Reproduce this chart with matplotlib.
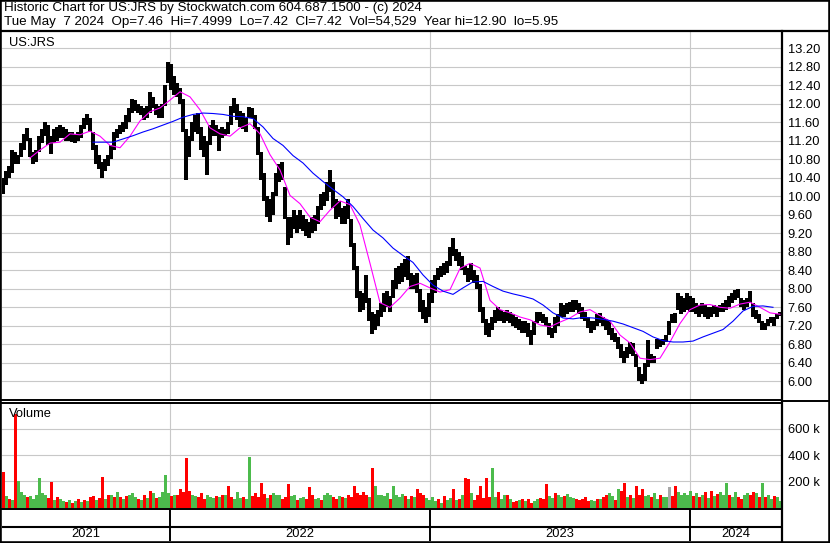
import numpy as np
import pandas as pd
import matplotlib
matplotlib.use('Agg')
import matplotlib.pyplot as plt
from matplotlib.lines import Line2D
from matplotlib.patches import Rectangle

plt.rcParams['font.family'] = ['Liberation Sans', 'DejaVu Sans']

title_line1 = 'Historic Chart for US:JRS by Stockwatch.com 604.687.1500 - (c) 2024'
title_line2 = ('Tue May  7 2024  Op=7.46  Hi=7.4999  Lo=7.42  Cl=7.42  '
               'Vol=54,529  Year hi=12.90  lo=5.95')
symbol = 'US:JRS'

# one bar per 3 trading days
lows = [10.05, 10.25, 10.40, 10.50, 10.70, 10.70, 10.85, 11.00, 11.20, 10.85,
        10.70, 10.75, 10.95, 11.15, 11.30, 11.10, 10.92, 11.15, 11.20, 11.25,
        11.25, 11.20, 11.20, 11.18, 11.15, 11.20, 11.25, 11.45, 11.55, 11.40,
        11.00, 10.70, 10.60, 10.40, 10.55, 10.65, 10.80, 11.00, 11.25, 11.35,
        11.40, 11.45, 11.60, 11.80, 11.85, 11.80, 11.75, 11.65, 11.70, 11.80,
        11.90, 11.75, 11.70, 11.70, 11.95, 12.45, 12.30, 12.20, 12.15, 12.00,
        11.40, 10.35, 10.85, 11.20, 11.40, 11.35, 11.00, 10.85, 10.46, 11.10,
        11.30, 11.30, 10.97, 11.25, 11.30, 11.35, 11.55, 11.80, 11.65, 11.50,
        11.45, 11.40, 11.70, 11.70, 11.45, 10.90, 10.35, 9.90, 9.55, 9.45,
        9.60, 10.00, 10.30, 10.35, 9.50, 8.95, 9.10, 9.30, 9.20, 9.30,
        9.25, 9.15, 9.10, 9.20, 9.25, 9.40, 9.70, 9.80, 9.90, 10.10,
        9.75, 9.50, 9.55, 9.40, 9.40, 9.50, 8.90, 8.40, 7.80, 7.50,
        7.55, 7.70, 7.30, 7.02, 7.10, 7.20, 7.40, 7.50, 7.60, 7.50,
        7.80, 8.00, 8.10, 8.15, 8.25, 8.20, 8.00, 8.00, 7.90, 7.50,
        7.35, 7.26, 7.40, 7.70, 7.90, 8.20, 8.25, 8.30, 8.35, 8.50,
        8.70, 8.60, 8.50, 8.40, 8.30, 8.15, 8.20, 8.12, 8.00, 7.50,
        7.25, 7.00, 6.96, 7.10, 7.25, 7.30, 7.30, 7.25, 7.30, 7.25,
        7.20, 7.15, 7.10, 7.05, 7.05, 6.95, 6.79, 7.00, 7.25, 7.30,
        7.25, 7.20, 7.00, 6.93, 7.05, 7.20, 7.40, 7.40, 7.45, 7.50,
        7.50, 7.55, 7.45, 7.35, 7.30, 7.15, 7.05, 7.10, 7.20, 7.25,
        7.20, 7.10, 7.00, 6.90, 6.85, 6.70, 6.50, 6.40, 6.50, 6.60,
        6.55, 6.30, 6.00, 5.95, 6.00, 6.30, 6.40, 6.40, 6.70, 6.75,
        6.78, 6.85, 7.00, 7.25, 7.25, 7.55, 7.45, 7.50, 7.55, 7.50,
        7.50, 7.45, 7.40, 7.45, 7.40, 7.35, 7.40, 7.45, 7.40, 7.50,
        7.50, 7.55, 7.60, 7.70, 7.75, 7.80, 7.60, 7.55, 7.60, 7.70,
        7.40, 7.35, 7.25, 7.10, 7.10, 7.20, 7.25, 7.20, 7.35, 7.42]
highs = [10.40, 10.55, 10.65, 11.00, 10.95, 10.90, 11.15, 11.35, 11.48, 11.25,
         10.95, 11.00, 11.30, 11.45, 11.60, 11.55, 11.30, 11.45, 11.50, 11.55,
         11.50, 11.45, 11.40, 11.38, 11.35, 11.40, 11.55, 11.70, 11.77, 11.70,
         11.40, 11.10, 10.90, 10.75, 10.80, 10.90, 11.10, 11.40, 11.45, 11.55,
         11.60, 11.75, 11.90, 12.10, 12.08, 12.00, 11.95, 11.90, 11.95, 12.25,
         12.15, 12.00, 11.95, 12.00, 12.40, 12.90, 12.85, 12.60, 12.45, 12.35,
         12.10, 11.45, 11.30, 11.60, 11.75, 11.80, 11.50, 11.30, 11.20, 11.55,
         11.65, 11.55, 11.45, 11.50, 11.45, 11.60, 11.95, 12.12, 12.00, 11.85,
         11.80, 11.70, 11.93, 11.90, 11.75, 11.50, 10.95, 10.50, 10.00, 9.95,
         10.10, 10.50, 10.70, 10.74, 10.20, 9.55, 9.55, 9.70, 9.60, 9.70,
         9.60, 9.50, 9.45, 9.55, 9.60, 9.80, 10.05, 10.10, 10.30, 10.57,
         10.30, 9.95, 9.90, 9.75, 9.80, 9.95, 9.50, 9.00, 8.50, 7.95,
         7.90, 8.30, 7.80, 7.50, 7.45, 7.55, 7.70, 7.90, 7.95, 7.85,
         8.20, 8.45, 8.50, 8.55, 8.65, 8.70, 8.35, 8.30, 8.35, 8.00,
         7.75, 7.60, 7.90, 8.20, 8.30, 8.45, 8.50, 8.55, 8.60, 8.90,
         9.10, 8.85, 8.80, 8.70, 8.50, 8.45, 8.55, 8.40, 8.30, 8.10,
         7.60, 7.35, 7.25, 7.40, 7.55, 7.60, 7.55, 7.50, 7.55, 7.50,
         7.45, 7.40, 7.35, 7.30, 7.30, 7.25, 7.10, 7.30, 7.50, 7.50,
         7.45, 7.40, 7.25, 7.15, 7.40, 7.45, 7.70, 7.65, 7.70, 7.72,
         7.75, 7.76, 7.70, 7.60, 7.50, 7.40, 7.30, 7.30, 7.45, 7.48,
         7.40, 7.35, 7.30, 7.15, 7.05, 6.95, 6.80, 6.65, 6.75, 6.85,
         6.83, 6.60, 6.30, 6.15, 6.40, 6.90, 6.60, 6.55, 6.92, 6.90,
         6.92, 7.00, 7.30, 7.45, 7.47, 7.92, 7.85, 7.80, 7.90, 7.85,
         7.80, 7.70, 7.65, 7.70, 7.65, 7.60, 7.60, 7.65, 7.60, 7.65,
         7.70, 7.75, 7.85, 7.90, 7.98, 8.00, 7.80, 7.75, 7.80, 7.95,
         7.70, 7.55, 7.45, 7.30, 7.25, 7.35, 7.40, 7.38, 7.45, 7.50]

# volume (thousands) per bar and its colour: g = up, r = down, x = flat
volumes_k = [275, 90, 70, 60, 710, 205, 120, 100, 80, 90,
             70, 95, 230, 110, 100, 75, 195, 60, 80, 70,
             50, 45, 60, 40, 55, 70, 45, 60, 50, 80,
             90, 60, 75, 237, 65, 95, 100, 80, 120, 85,
             70, 90, 95, 110, 80, 70, 60, 95, 75, 130,
             110, 75, 85, 120, 250, 110, 90, 100, 95, 140,
             120, 380, 130, 100, 90, 85, 110, 70, 95, 80,
             75, 90, 80, 95, 100, 165, 85, 70, 120, 75,
             85, 70, 388, 90, 110, 80, 190, 105, 75, 95,
             110, 100, 95, 70, 85, 180, 90, 100, 60, 75,
             80, 70, 155, 95, 65, 75, 60, 100, 110, 95,
             85, 70, 90, 80, 75, 100, 85, 165, 110, 95,
             120, 100, 80, 305, 165, 95, 100, 90, 110, 70,
             165, 95, 85, 105, 90, 70, 90, 85, 140, 110,
             95, 75, 60, 80, 55, 70, 40, 90, 60, 75,
             140, 60, 70, 95, 225, 220, 110, 60, 95, 165,
             75, 230, 85, 300, 80, 120, 70, 95, 100, 65,
             45, 50, 60, 70, 55, 65, 40, 50, 65, 75,
             70, 180, 90, 75, 110, 95, 85, 90, 105, 80,
             75, 65, 60, 70, 85, 55, 60, 50, 70, 65,
             80, 95, 110, 90, 60, 140, 130, 190, 85, 100,
             75, 165, 100, 140, 90, 100, 85, 110, 70, 95,
             85, 80, 155, 90, 165, 120, 95, 110, 100, 130,
             90, 110, 80, 100, 120, 75, 130, 90, 105, 120,
             95, 190, 100, 80, 120, 85, 70, 100, 110, 95,
             120, 110, 85, 190, 80, 100, 70, 90, 80, 55]
vol_colors = ('rgrgrgggrg' 'gggggrrgrg' 'grgrgrgrgr' 'rgrrgrgrgr'
              'grgggrgrgr' 'grggggrgrr' 'rrrggrrrgg' 'grgrgrrggg'
              'rggrrrrrgr' 'gggrrrggrg' 'grrrggrggg' 'rrgrgrrrrr'
              'rrgrgggggr' 'ggggrgrgrr' 'rggggrgrgg' 'rgrgrrgrrr'
              'rrrggrggrg' 'rrgrgrrggr' 'rrggrggrgg' 'grrrrrggrg'
              'rrggrgrrgr' 'grrrggrggr' 'ggxrrggggg' 'rgrgrgrgrg'
              'ggrggrrggr' 'rgrgrggrgg')

# moving averages sampled every 10 trading days
ma_step = 10
ma_fast_start = 28
ma_fast = [10.83, 11.00, 11.15, 11.17, 11.35, 11.33, 11.41, 11.30, 11.10, 11.05,
           11.30, 11.63, 11.83, 11.91, 12.08, 12.26, 12.15, 11.87, 11.48, 11.35,
           11.30, 11.48, 11.57, 11.35, 10.90, 10.57, 10.02, 9.84, 9.55, 9.45,
           9.70, 9.90, 9.82, 9.38, 8.55, 7.70, 7.60, 7.80, 8.05, 8.12,
           8.02, 7.93, 7.98, 8.44, 8.55, 8.45, 7.75, 7.55, 7.48, 7.39,
           7.33, 7.22, 7.18, 7.28, 7.37, 7.50, 7.55, 7.42, 7.30, 7.00,
           6.83, 6.50, 6.47, 6.50, 6.85, 7.25, 7.55, 7.65, 7.66, 7.60,
           7.58, 7.67, 7.71, 7.60, 7.48, 7.45]
ma_slow_start = 91
ma_slow = [11.17, 11.17, 11.17, 11.24, 11.31, 11.39, 11.46, 11.54, 11.62, 11.71,
           11.77, 11.80, 11.79, 11.77, 11.73, 11.72, 11.68, 11.50, 11.25, 11.10,
           10.88, 10.72, 10.50, 10.32, 10.15, 9.99, 9.78, 9.52, 9.27, 9.10,
           8.88, 8.72, 8.57, 8.30, 8.08, 7.95, 7.88, 8.02, 8.15, 8.16,
           8.05, 7.95, 7.89, 7.84, 7.78, 7.65, 7.48, 7.37, 7.35, 7.38,
           7.37, 7.34, 7.30, 7.24, 7.16, 7.08, 6.96, 6.88, 6.85, 6.85,
           6.87, 6.96, 7.04, 7.12, 7.30, 7.52, 7.62, 7.63, 7.60]

price_ticks = np.arange(6.0, 13.21, 0.4)
vol_ticks = [200, 400, 600]
vol_tick_labels = ['200 k', '400 k', '600 k']

days_per_bar = 3
n_days = len(lows) * days_per_bar
days = pd.bdate_range(end='2024-05-07', periods=n_days)
bar_x = np.arange(len(lows)) * days_per_bar + 1
year_bounds = [i for i in range(1, n_days) if days[i].year != days[i - 1].year]

W, H = 830, 543
GRID = '#c8c8c8'
GREEN = '#4cbb4c'
RED = '#ff0000'
GRAY = '#a8a8a8'


def box(x0, y0, x1, y1):
    return [x0 / W, 1 - y1 / H, (x1 - x0) / W, (y1 - y0) / H]


def fig_line(fig, x0, y0, x1, y1, lw=1.5):
    fig.add_artist(Line2D([x0 / W, x1 / W], [1 - y0 / H, 1 - y1 / H],
                          transform=fig.transFigure, color='black', lw=lw))


fig = plt.figure(figsize=(W / 100, H / 100), dpi=100)
fig.patch.set_facecolor('white')

# price panel
ax = fig.add_axes(box(2, 31, 782, 400))
ax.set_xlim(0, n_days)
ax.set_ylim(5.596, 13.574)
for t in price_ticks:
    ax.axhline(t, color=GRID, lw=0.8, zorder=0)
for b in year_bounds:
    ax.axvline(b, color=GRID, lw=0.8, zorder=0)
ax.vlines(bar_x, lows, highs, color='black', lw=1.6, zorder=2, antialiased=False)
fast_x = np.arange(len(ma_fast)) * ma_step + ma_fast_start
slow_x = np.arange(len(ma_slow)) * ma_step + ma_slow_start
ax.plot(fast_x, ma_fast, color='#ff00ff', lw=0.8, zorder=3)
ax.plot(slow_x, ma_slow, color='#0000ff', lw=0.8, zorder=3)
ax.yaxis.tick_right()
ax.set_yticks(price_ticks)
ax.set_yticklabels(['%.2f' % t for t in price_ticks])
ax.tick_params(axis='y', length=0, pad=4, labelsize=9.3)
ax.set_xticks([])
ax.text(0.009, 0.985, symbol, transform=ax.transAxes, ha='left', va='top', fontsize=9.3)
for s in ['left', 'top']:
    ax.spines[s].set_visible(False)
for s in ['right', 'bottom']:
    ax.spines[s].set_linewidth(1.4)

# volume panel
axv = fig.add_axes(box(2, 402.5, 782, 509))
axv.set_xlim(0, n_days)
axv.set_ylim(-8, 797)
for t in vol_ticks:
    axv.axhline(t, color=GRID, lw=0.8, zorder=0)
for b in year_bounds:
    axv.axvline(b, color=GRID, lw=0.8, zorder=0)
cmap = {'g': GREEN, 'r': RED, 'x': GRAY}
axv.bar(bar_x, volumes_k, width=3.0, color=[cmap[c] for c in vol_colors],
        lw=0, zorder=2, antialiased=False)
axv.yaxis.tick_right()
axv.set_yticks(vol_ticks)
axv.set_yticklabels(vol_tick_labels)
axv.tick_params(axis='y', length=0, pad=4, labelsize=9.3)
axv.set_xticks([])
axv.text(0.009, 0.95, 'Volume', transform=axv.transAxes, ha='left', va='top', fontsize=9.3)
axv.spines['left'].set_visible(False)
for s in ['right', 'bottom', 'top']:
    axv.spines[s].set_linewidth(1.4)

# date strip
axd = fig.add_axes(box(2, 509, 782, 541))
axd.set_xlim(0, n_days)
axd.set_ylim(0, 1)
axd.axis('off')
axd.axhline((541 - 527) / 32, color='black', lw=1.5)
for b in year_bounds:
    axd.axvline(b, color='black', lw=1.4)
edges = [0] + year_bounds + [n_days]
for a, b in zip(edges[:-1], edges[1:]):
    axd.text((a + b) / 2, (541 - 534) / 32, str(days[a].year), ha='center', va='center',
             fontsize=9.3)

# frame
fig_line(fig, 0, 31, W, 31, lw=1.6)
fig_line(fig, 782, 31, 782, H, lw=1.6)
fig_line(fig, 782, 401, W, 401, lw=1.4)
fig.add_artist(Rectangle((0, 0), 1, 1, transform=fig.transFigure, fill=False,
                         ec='black', lw=2.6))

fig.text(4 / W, 1 - 8.5 / H, title_line1, ha='left', va='center', fontsize=9.6)
fig.text(4 / W, 1 - 22 / H, title_line2, ha='left', va='center', fontsize=9.6)

fig.savefig('out.png', dpi=100)
